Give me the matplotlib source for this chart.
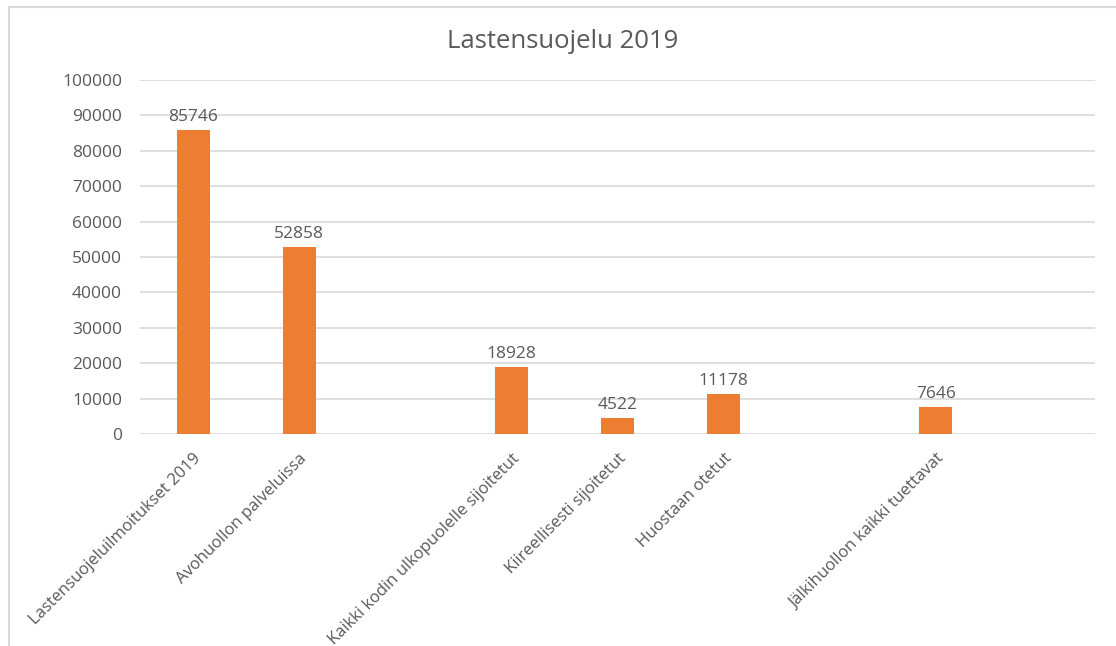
import numpy as np
import matplotlib
matplotlib.use('Agg')
import matplotlib.pyplot as plt
from matplotlib.lines import Line2D

# chart data (empty slots are blank categories in the original chart)
categories = ['Lastensuojeluilmoitukset 2019', 'Avohuollon palveluissa', '',
              'Kaikki kodin ulkopuolelle sijoitetut', 'Kiireellisesti sijoitetut',
              'Huostaan otetut', '', 'Jälkihuollon kaikki tuettavat', '']
values = [85746, 52858, np.nan, 18928, 4522, 11178, np.nan, 7646, np.nan]
yticks = [0, 10000, 20000, 30000, 40000, 50000, 60000, 70000, 80000, 90000, 100000]
title = 'Lastensuojelu 2019'

text_col = '#595959'
bar_col = '#ED7D31'
grid_col = '#D9D9D9'

plt.rcParams['font.family'] = ['Open Sans', 'DejaVu Sans']

fig = plt.figure(figsize=(11.16, 6.46), dpi=100)
W, H = 1116, 646
ax = fig.add_axes([140 / W, 1 - 434 / H, (1095 - 140) / W, (434 - 80) / H])

x = np.arange(len(categories))
ax.bar(x, values, width=0.31, color=bar_col, zorder=3)

for xi, v in zip(x, values):
    if not np.isnan(v):
        ax.text(xi, v + 1500, '%d' % v, ha='center', va='bottom',
                fontsize=12.5, color=text_col)

ax.set_xlim(-0.5, len(categories) - 0.5)
ax.set_ylim(0, 100000)
ax.set_yticks(yticks)
ax.set_yticklabels([str(t) for t in yticks], fontsize=12.5, color=text_col)
ax.set_xticks(x)
ax.set_xticklabels(categories, rotation=45, ha='right', va='top',
                   rotation_mode='anchor', fontsize=12, color=text_col)
ax.tick_params(axis='both', length=0)
ax.tick_params(axis='y', pad=13)
ax.tick_params(axis='x', pad=12)
ax.yaxis.grid(True, color=grid_col, linewidth=1.2, zorder=0)
for s in ax.spines.values():
    s.set_visible(False)

fig.text(563 / W, 1 - 42 / H, title, ha='center', va='center',
         fontsize=18.5, color=text_col)

# outer chart frame (top and left edges visible)
fig.add_artist(Line2D([8.5 / W, 1.0], [1 - 6.5 / H, 1 - 6.5 / H],
                      color=grid_col, linewidth=1.5, transform=fig.transFigure))
fig.add_artist(Line2D([8.5 / W, 8.5 / W], [0, 1 - 6.5 / H],
                      color=grid_col, linewidth=1.5, transform=fig.transFigure))

fig.savefig('out.png', dpi=100, facecolor='white')
